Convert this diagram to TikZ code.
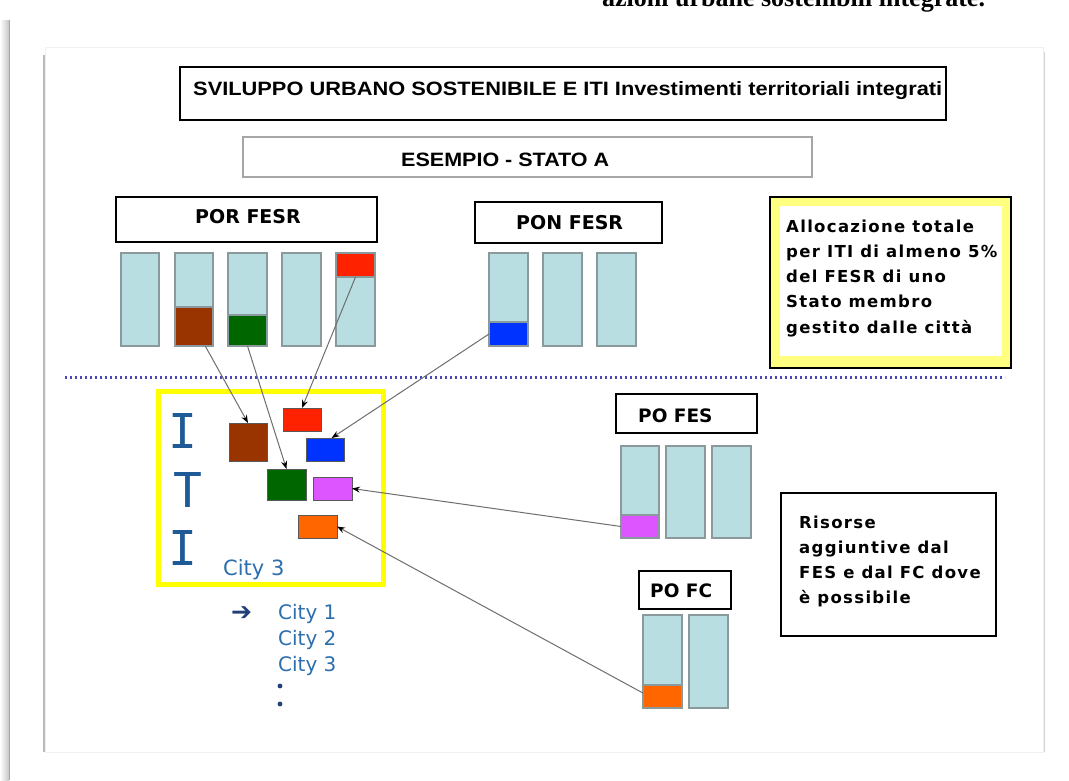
\documentclass[tikz,border=0pt]{standalone}
\usepackage{fontspec}
\usepackage{graphicx}
\setmainfont{DejaVu Sans}
\newfontfamily\verdbold{DejaVu Sans Bold}[LetterSpace=8]
\newfontfamily\verdplain{DejaVu Sans Bold}
\newfontfamily\arialfont{Liberation Sans}
\newfontfamily\bookfont{Liberation Serif}
\newfontfamily\itifont{DejaVu Sans Mono}
\usetikzlibrary{arrows.meta}

\definecolor{barblue}{HTML}{B8DEE2}
\definecolor{bargray}{HTML}{8A9A9C}
\definecolor{brownc}{HTML}{993300}
\definecolor{greenc}{HTML}{006600}
\definecolor{redc}{HTML}{FF2200}
\definecolor{bluec}{HTML}{0033FF}
\definecolor{magc}{HTML}{DD55FF}
\definecolor{orangec}{HTML}{FF6600}
\definecolor{itiyellow}{HTML}{FFFF00}
\definecolor{softyellow}{HTML}{FFFF80}
\definecolor{dotblue}{HTML}{4848B8}
\definecolor{itiblue}{HTML}{1E5A96}
\definecolor{citycol}{HTML}{2C6EAE}
\definecolor{navy}{HTML}{1F3F78}
\definecolor{linegray}{HTML}{6E6E6E}

\tikzset{
  bar/.style={draw=bargray, fill=barblue, line width=1.5pt},
  chunk/.style={draw=bargray, line width=1.5pt, inner sep=0pt, outer sep=0pt},
  citybox/.style={draw=black!65, line width=1pt, inner sep=0pt, outer sep=0pt},
  labelbox/.style={draw=black, line width=1.5pt, inner sep=0pt, fill=white},
  notetext/.style={anchor=north west, align=left, inner sep=0pt, font=\verdbold\fontsize{16.5}{25.2}\selectfont},
  feed/.style={draw=linegray, line width=1pt, -{Stealth[length=8pt,width=6pt,color=black]}},
  citytext/.style={anchor=base west, inner sep=0pt, text=citycol, font=\fontsize{20}{24}\selectfont},
}

\begin{document}
\begin{tikzpicture}[x=1pt, y=-1pt]
            \useasboundingbox (0,0) rectangle (1069,780);
            \clip (0,0) rectangle (1069,780);
            \fill[white] (0,0) rectangle (1069,780);

            % page edges
            \shade[left color=white, right color=gray!45] (0,20) rectangle (9,780);
            \draw[gray!70, line width=1.2pt] (9.5,20) -- (9.5,780);
            \draw[gray!12, line width=1pt] (45,47) rectangle (1043,752);
            \draw[gray!55, line width=1.2pt] (44,55) -- (44,752);
            \draw[gray!35, line width=1pt] (1044,52) -- (1044,752);
            \node[anchor=base west, inner sep=0pt] (cuttext) at (602,6) {\bookfont\bfseries\fontsize{26}{30}\selectfont azioni urbane sostenibili integrate.};

            % headings
            \node[labelbox, minimum width=766pt, minimum height=53pt] (titlebox) at (563,93.5) {};
            \node[anchor=base west, inner sep=0pt] (titletext) at (193,95.5) {\resizebox{749pt}{14pt}{\arialfont\bfseries SVILUPPO URBANO SOSTENIBILE E ITI Investimenti territoriali integrati}};
            \node[labelbox, draw=gray!70, minimum width=569pt, minimum height=40pt] (esempiobox) at (527.5,157) {};
            \node[anchor=base west, inner sep=0pt] (esempiotext) at (401,166) {\resizebox{208pt}{13.5pt}{\arialfont\bfseries ESEMPIO - STATO A}};

            % POR FESR
            \node[labelbox, minimum width=261pt, minimum height=45pt] (porbox) at (246.5,219.5) {};
            \node[anchor=base west, inner sep=0pt] (portext) at (195,223) {\verdplain\fontsize{19}{22}\selectfont POR FESR};
            \filldraw[bar] (121,253) rectangle (159,346);
            \filldraw[bar] (175,253) rectangle (213,346);
            \filldraw[bar] (228,253) rectangle (267,346);
            \filldraw[bar] (282,253) rectangle (321,346);
            \filldraw[bar] (336,253) rectangle (375,346);
            \node[chunk, fill=brownc, minimum width=38pt, minimum height=39pt] (porbrown) at (194,326.5) {};
            \node[chunk, fill=greenc, minimum width=39pt, minimum height=31pt] (porgreen) at (247.5,330.5) {};
            \node[chunk, fill=redc, minimum width=39pt, minimum height=24pt] (porred) at (355.5,265) {};

            % PON FESR
            \node[labelbox, minimum width=187pt, minimum height=41pt] (ponbox) at (568.5,222.5) {};
            \node[anchor=base west, inner sep=0pt] (pontext) at (516,229) {\verdplain\fontsize{19}{22}\selectfont PON FESR};
            \filldraw[bar] (489,253) rectangle (528,346);
            \filldraw[bar] (543,253) rectangle (582,346);
            \filldraw[bar] (597,253) rectangle (636,346);
            \node[chunk, fill=bluec, minimum width=39pt, minimum height=24pt] (ponblue) at (508.5,334) {};

            % allocation note
            \node[draw=black, line width=1.5pt, fill=softyellow, inner sep=0pt, minimum width=241pt, minimum height=171pt] (allocbox) at (890.5,282.5) {};
            \node[fill=white, inner sep=0pt, minimum width=222pt, minimum height=150pt] (allocinner) at (891,281) {};
            \node[notetext] (alloctext) at (786,219.5) {Allocazione totale\\per ITI di almeno 5\%\\del FESR di uno\\Stato membro\\gestito dalle città};

            \draw[dotblue, line width=2.2pt, dash pattern=on 2pt off 3pt] (65,377.5) -- (1005,377.5);

            % ITI
            \node[draw=itiyellow, line width=5pt, inner sep=0pt, minimum width=225pt, minimum height=193pt] (itibox) at (270.5,488) {};
            \node[anchor=base, inner sep=0pt, text=itiblue] (letteri) at (182.5,448) {\itifont\fontsize{48}{50}\selectfont I};
            \node[anchor=base, inner sep=0pt, text=itiblue] (lettert) at (187.5,507) {\itifont\fontsize{48}{50}\selectfont T};
            \node[anchor=base, inner sep=0pt, text=itiblue] (letterii) at (182.5,565) {\itifont\fontsize{48}{50}\selectfont I};
            \node[citytext, font=\fontsize{21}{24}\selectfont] (citylabel) at (223,575) {City 3};
            \node[citybox, fill=brownc, minimum width=38pt, minimum height=38pt] (itibrown) at (248,442) {};
            \node[citybox, fill=redc, minimum width=38pt, minimum height=23pt] (itired) at (302,419.5) {};
            \node[citybox, fill=bluec, minimum width=38pt, minimum height=23pt] (itiblu) at (325,449.5) {};
            \node[citybox, fill=greenc, minimum width=39pt, minimum height=31pt] (itigreen) at (286.5,484.5) {};
            \node[citybox, fill=magc, minimum width=39pt, minimum height=23pt] (itimag) at (332.5,488.5) {};
            \node[citybox, fill=orangec, minimum width=39pt, minimum height=23pt] (itiorange) at (317.5,526.5) {};

            % city list
            \node[anchor=base west, inner sep=0pt, text=navy] (cityarrow) at (231,620) {\resizebox{21pt}{!}{\verdplain ➔}};
            \node[citytext] (cityone) at (278,619) {City 1};
            \node[citytext] (citytwo) at (278,645) {City 2};
            \node[citytext] (citythree) at (278,671) {City 3};
            \fill[navy] (280,686) circle (2.4pt);
            \fill[navy] (280,704) circle (2.4pt);

            % PO FES
            \node[labelbox, minimum width=141pt, minimum height=39pt] (fesbox) at (686.5,413.5) {};
            \node[anchor=base west, inner sep=0pt] (festext) at (638,422) {\verdplain\fontsize{18.5}{22}\selectfont PO FES};
            \filldraw[bar] (621,446) rectangle (659,538);
            \filldraw[bar] (666,446) rectangle (705,538);
            \filldraw[bar] (712,446) rectangle (751,538);
            \node[chunk, fill=magc, minimum width=38pt, minimum height=23pt] (fesmag) at (640,526.5) {};

            % PO FC
            \node[labelbox, minimum width=92pt, minimum height=38pt] (fcbox) at (685,590) {};
            \node[anchor=base west, inner sep=0pt] (fctext) at (650,597) {\verdplain\fontsize{18.5}{22}\selectfont PO FC};
            \filldraw[bar] (643,615) rectangle (682,708);
            \filldraw[bar] (689,615) rectangle (728,708);
            \node[chunk, fill=orangec, minimum width=39pt, minimum height=23pt] (fcorange) at (662.5,696.5) {};

            % extra resources note
            \node[labelbox, minimum width=215pt, minimum height=143pt] (extrabox) at (888.5,564.5) {};
            \node[notetext] (extratext) at (799,515.5) {Risorse\\aggiuntive dal\\FES e dal FC dove\\è possibile};

            % flows into the ITI
            \draw[feed] (porbrown.-60) -- (itibrown.north);
            \draw[feed] (porgreen.south) -- (itigreen.north);
            \draw[feed] (porred.south) -- (itired.north);
            \draw[feed] (ponblue.west) -- (itiblu.60);
            \draw[feed] (fesmag.west) -- (itimag.east);
            \draw[feed] (fcorange.170) -- (itiorange.east);
\end{tikzpicture}
\end{document}
